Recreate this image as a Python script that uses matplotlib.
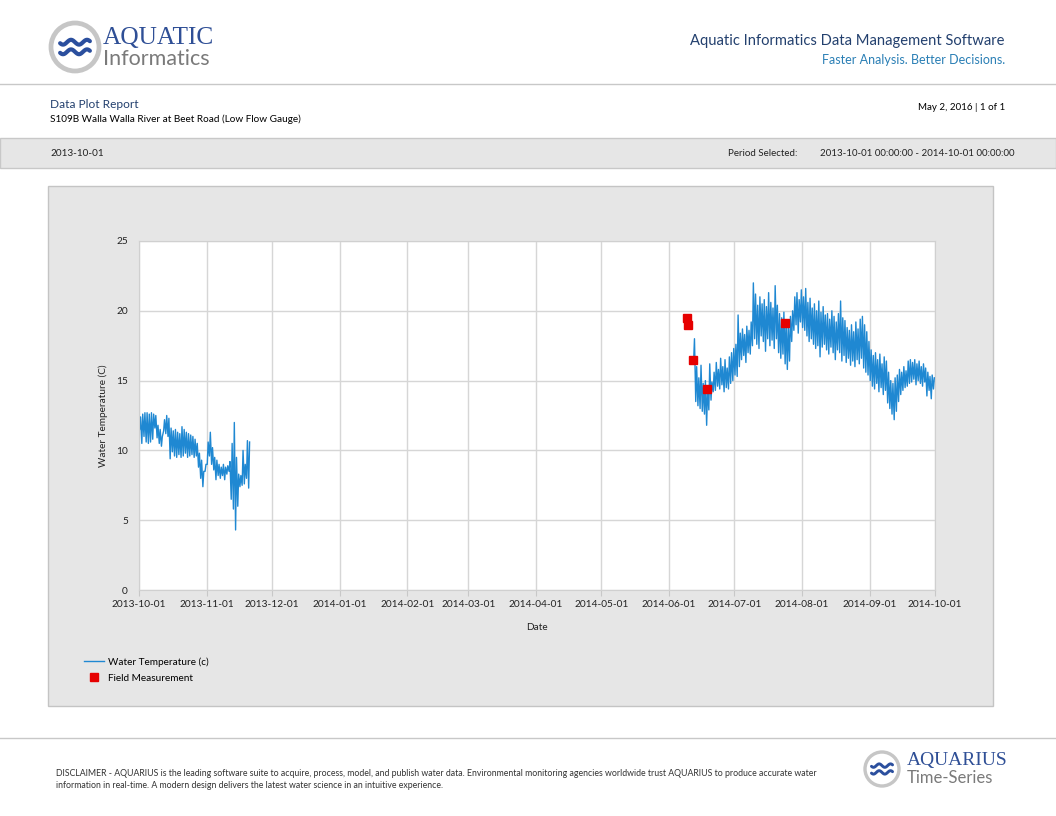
import numpy as np
import pandas as pd
import matplotlib
matplotlib.use("Agg")
import matplotlib.pyplot as plt
import matplotlib.dates as mdates
from matplotlib.patches import Rectangle, Circle

plt.rcParams['font.family'] = ['Lato', 'DejaVu Sans']

W, H = 1056, 816

# daily high / low water temperature
seg1_start = '2013-10-01'
seg1_hi = [12.4, 12.6, 12.7, 12.7, 12.6, 12.7, 12.6, 12.5, 11.8, 11.5,
           11.0, 12.2, 12.5, 12.3, 11.6, 11.4, 11.5, 11.3, 11.2, 11.7,
           11.5, 11.3, 11.2, 11.1, 11.0, 10.8, 10.5, 9.8, 9.3, 8.5,
           9.0, 10.6, 11.3, 10.2, 9.5, 9.3, 9.0, 8.8, 9.0, 8.8,
           8.9, 9.2, 10.5, 12.0, 9.5, 8.3, 8.2, 10.0, 9.0, 10.7, 10.6]
seg1_lo = [11.5, 10.5, 11.0, 10.6, 10.5, 10.6, 10.8, 11.6, 10.9, 10.5,
           10.3, 11.4, 11.2, 11.0, 9.4, 9.9, 9.6, 9.5, 9.7, 9.5,
           9.6, 9.8, 9.5, 9.6, 9.7, 9.5, 9.6, 8.8, 8.0, 7.4,
           8.5, 9.0, 9.6, 9.0, 8.6, 7.9, 8.2, 8.0, 8.2, 7.9,
           8.3, 8.5, 6.5, 5.8, 4.3, 6.0, 7.4, 7.5, 7.6, 8.0, 7.3]

seg2_start = '2014-06-12'
seg2_hi = [18.0, 16.0, 15.2, 16.1, 14.8, 15.0, 14.5, 16.2, 14.9, 15.6,
           16.3, 15.8, 16.6, 16.0, 16.5, 15.9, 16.7, 17.0, 17.3, 17.6,
           19.7, 18.4, 18.7, 18.3, 18.9, 18.6, 19.2, 22.0, 21.2, 20.4,
           21.0, 20.5, 20.8, 20.3, 21.3, 20.6, 20.2, 21.8, 20.4, 19.8,
           19.5, 19.9, 19.3, 19.0, 19.6, 20.0, 21.0, 21.3, 20.8, 21.5,
           21.0, 21.6, 20.6, 20.9, 20.2, 20.5, 20.0, 20.7, 19.9, 20.3,
           19.7, 19.8, 19.4, 20.0, 19.6, 19.2, 19.8, 20.7, 19.5, 19.3,
           18.8, 18.6, 19.0, 18.5, 19.2, 18.7, 19.4, 19.6, 19.0, 18.5,
           17.8, 17.2, 16.8, 17.0, 16.5, 16.9, 16.2, 16.7, 16.4, 15.6,
           15.0, 14.8, 15.2, 15.4, 15.8, 15.6, 16.0, 15.7, 16.4, 16.5,
           16.3, 16.5, 16.2, 16.4, 16.0, 16.2, 15.9, 15.6, 15.3, 15.4, 15.2]
seg2_lo = [16.3, 13.5, 13.2, 13.0, 12.8, 12.6, 11.8, 12.9, 13.6, 14.2,
           14.3, 14.6, 14.4, 14.7, 14.2, 14.5, 14.4, 14.8, 15.0, 15.4,
           15.3, 16.0, 16.5, 16.8, 16.3, 17.0, 16.9, 17.5, 18.0, 17.6,
           17.3, 18.2, 17.8, 17.1, 18.0, 17.5, 17.9, 17.3, 18.0, 17.0,
           16.6, 16.9, 16.2, 15.8, 16.4, 17.8, 18.6, 19.0, 18.4, 19.2,
           18.8, 18.6, 18.2, 17.8, 18.0, 17.6, 17.3, 17.5, 16.7, 17.4,
           17.6, 17.2, 16.9, 17.4, 17.0, 16.5, 17.2, 17.0, 16.4, 16.8,
           16.3, 16.6, 16.1, 16.4, 16.0, 16.5, 16.2, 16.6, 15.9, 15.6,
           15.4, 15.0, 14.6, 14.4, 14.8, 14.2, 14.5, 14.0, 14.3, 13.4,
           13.0, 12.6, 12.2, 12.8, 13.5, 14.0, 14.3, 14.5, 14.6, 14.8,
           14.9, 15.1, 14.7, 15.0, 14.8, 14.6, 14.9, 13.9, 14.3, 13.7, 14.4]

field_dates = ['2014-06-09 08:00', '2014-06-09 14:00', '2014-06-12 06:00',
               '2014-06-18 09:00', '2014-07-24 06:00']
field_vals = [19.5, 19.0, 16.5, 14.4, 19.1]

month_ticks = pd.date_range('2013-10-01', '2014-10-01', freq='MS')
y_ticks = [0, 5, 10, 15, 20, 25]


def zigzag(start, hi, lo):
    days = pd.date_range(start, periods=len(hi), freq='D')
    t, v = [], []
    for d, h, l in zip(days, hi, lo):
        t += [d + pd.Timedelta(hours=7), d + pd.Timedelta(hours=17)]
        v += [l, h]
    return t, v


t1, v1 = zigzag(seg1_start, seg1_hi, seg1_lo)
t2, v2 = zigzag(seg2_start, seg2_hi, seg2_lo)
times = t1 + [pd.Timestamp('2014-01-01')] + t2
vals = v1 + [np.nan] + v2

fig = plt.figure(figsize=(W / 100, H / 100), dpi=100)

# page decorations, drawn in pixel coordinates
bg = fig.add_axes([0, 0, 1, 1])
bg.set_xlim(0, W)
bg.set_ylim(H, 0)
bg.axis('off')

navy = '#23406e'
bg.plot([0, W], [84, 84], color='#c8c8c8', lw=1)
bg.plot([0, W], [738, 738], color='#c8c8c8', lw=1)
bg.add_patch(Rectangle((0, 138), W, 30, fc='#e6e6e6', ec='#c8c8c8', lw=1))
bg.add_patch(Rectangle((48, 186), 945, 520, fc='#e6e6e6', ec='#c4c4c4', lw=1))


def logo(cx, cy, r):
    bg.add_patch(Circle((cx, cy), r, fc='white', ec='#c6c6c6', lw=r / 7))
    xs = np.linspace(cx - r * 0.62, cx + r * 0.62, 60)
    for dy in (-0.2, 0.2):
        ys = cy + dy * r + 0.1 * r * np.sin((xs - cx) / r * 3 * np.pi)
        bg.plot(xs, ys, color='#2b4f9e', lw=r / 8, solid_capstyle='round')


logo(75, 47, 24)
bg.text(103, 38, 'AQUATIC', family='Liberation Serif', fontsize=18.3,
        color='#2f4f96', va='center')
bg.text(103, 59, 'Informatics', fontsize=15.5, color='#7a7a7a', va='center')

bg.text(1005, 41, 'Aquatic Informatics Data Management Software', fontsize=10.6,
        color=navy, ha='right', va='center')
bg.text(1005, 60, 'Faster Analysis. Better Decisions.', fontsize=9,
        color='#2a7fb5', ha='right', va='center')

bg.text(50, 104, 'Data Plot Report', fontsize=8.6, color=navy, va='center')
bg.text(50, 119, 'S109B Walla Walla River at Beet Road (Low Flow Gauge)',
        fontsize=7.2, color='black', va='center')
bg.text(1005, 107, 'May 2, 2016 | 1 of 1', fontsize=7, color='black',
        ha='right', va='center')

bg.text(50, 153, '2013-10-01', fontsize=7.2, color='#222222', va='center')
bg.text(728, 153, 'Period Selected:', fontsize=7, color='#222222', va='center')
bg.text(1015, 153, '2013-10-01 00:00:00 - 2014-10-01 00:00:00', fontsize=7,
        color='#222222', ha='right', va='center')

bg.text(56, 774, 'DISCLAIMER - AQUARIUS is the leading software suite to acquire, '
        'process, model, and publish water data. Environmental monitoring agencies '
        'worldwide trust AQUARIUS to produce accurate water', fontsize=6.3,
        color='#333333', va='center')
bg.text(56, 786, 'information in real-time. A modern design delivers the latest '
        'water science in an intuitive experience.', fontsize=6.3,
        color='#333333', va='center')

logo(882, 769, 17)
bg.text(907, 761, 'AQUARIUS', family='Liberation Serif', fontsize=14,
        color='#2f4f96', va='center')
bg.text(907, 778, 'Time-Series', fontsize=12, color='#7a7a7a', va='center')

# the chart itself
ax = fig.add_axes([139 / W, 1 - 590 / H, (935 - 139) / W, (590 - 241) / H])
ax.set_facecolor('white')
ax.plot(times, vals, color='#1f88d2', lw=1, label='Water Temperature (c)')
ax.plot(pd.to_datetime(field_dates), field_vals, 's', color='#e60000',
        markersize=5.5, lw=0, label='Field Measurement')

ax.set_xlim(month_ticks[0], month_ticks[-1])
ax.set_ylim(0, 25)
ax.set_xticks(month_ticks)
ax.xaxis.set_major_formatter(mdates.DateFormatter('%Y-%m-%d'))
ax.set_yticks(y_ticks)
ax.grid(True, color='#d6d6d6', lw=1)
ax.set_axisbelow(True)
for s in ax.spines.values():
    s.set_color('#d0d0d0')
ax.tick_params(axis='x', length=4, color='#c8c8c8', labelsize=7.3, pad=3,
               labelcolor='#222222')
ax.tick_params(axis='y', length=0, labelsize=7.3, pad=8, labelcolor='#222222')
ax.set_xlabel('Date', fontsize=7.2, color='#222222', labelpad=10)
ax.set_ylabel('Water Temperature (C)', fontsize=7.2, color='#222222', labelpad=6)

ax.legend(loc='upper left', bbox_to_anchor=(84 / W, 1 - 657 / H),
          bbox_transform=fig.transFigure, frameon=False, fontsize=7.2,
          handlelength=2.0, handletextpad=0.4, labelspacing=0.7,
          borderaxespad=0, borderpad=0)

fig.savefig('out.png', dpi=100)
